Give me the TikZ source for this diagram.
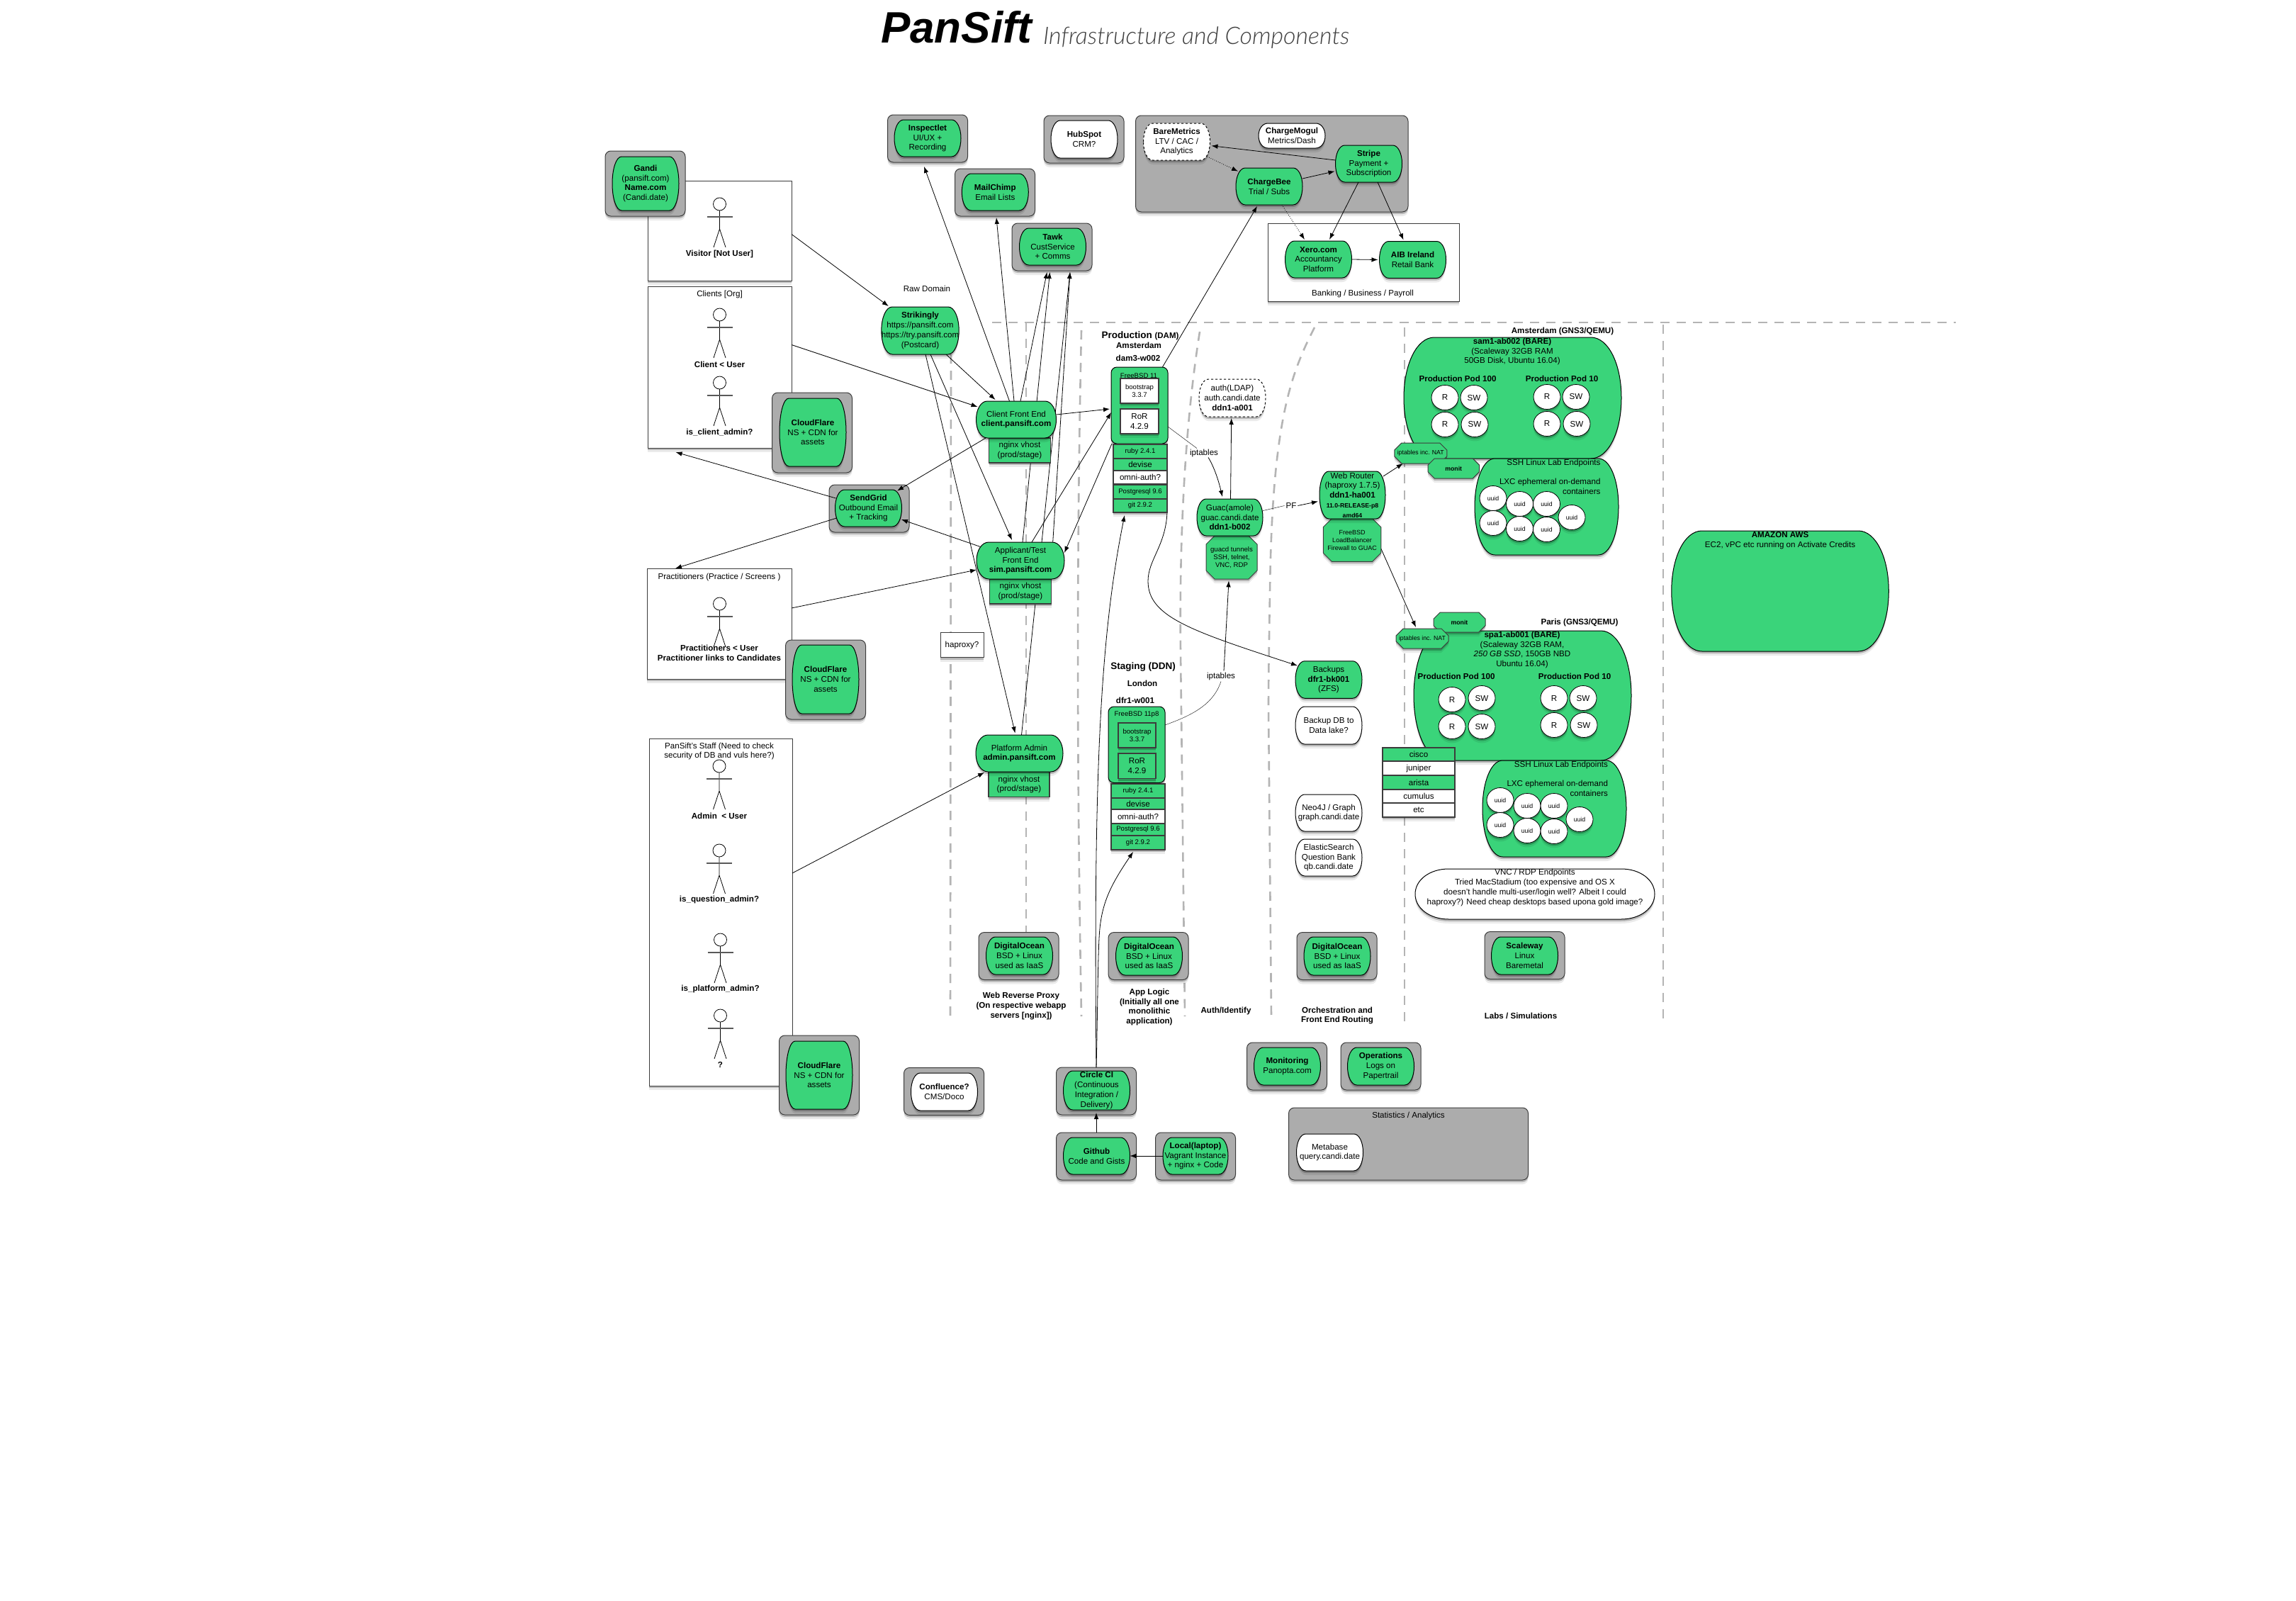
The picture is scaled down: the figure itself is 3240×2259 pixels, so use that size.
\documentclass[tikz,border=0pt]{standalone}
\usepackage{fontspec}
\setmainfont{Liberation Sans}
\newfontfamily\thinfont{Lato Light Italic}
\usetikzlibrary{arrows.meta,shadows,shapes.misc,shapes.geometric}
\definecolor{podgreen}{RGB}{58,212,122}
\definecolor{shellgrey}{RGB}{172,172,172}
\definecolor{shelledge}{RGB}{60,60,60}
\definecolor{zonegrey}{RGB}{180,180,180}
\newcommand{\microbold}{\fontsize{8.7}{10.5}\selectfont\bfseries}
\pgfdeclarelayer{zones}
\pgfdeclarelayer{shells}
\pgfdeclarelayer{wires}
\pgfsetlayers{zones,shells,wires,main}
\newdimen\podl \newdimen\podr \newdimen\podt \newdimen\podb \newdimen\podm
\newdimen\podli \newdimen\podri \newdimen\podcl \newdimen\podcr \newdimen\podcu \newdimen\podcd
\makeatletter
\pgfdeclareshape{podshape}{
  \inheritsavedanchors[from=rectangle]
  \inheritanchorborder[from=rectangle]
  \inheritanchor[from=rectangle]{center}
  \inheritanchor[from=rectangle]{text}
  \inheritanchor[from=rectangle]{base}
  \inheritanchor[from=rectangle]{north}
  \inheritanchor[from=rectangle]{south}
  \inheritanchor[from=rectangle]{east}
  \inheritanchor[from=rectangle]{west}
  \inheritanchor[from=rectangle]{north east}
  \inheritanchor[from=rectangle]{north west}
  \inheritanchor[from=rectangle]{south east}
  \inheritanchor[from=rectangle]{south west}
  \backgroundpath{
    \southwest \podl=\pgf@x \podb=\pgf@y
    \northeast \podr=\pgf@x \podt=\pgf@y
    \podm=\dimexpr(\podt+\podb)/2\relax
    \podli=\dimexpr\podl+(\podr-\podl)*14/100\relax
    \podri=\dimexpr\podr-(\podr-\podl)*14/100\relax
    \podcl=\dimexpr\podl+(\podr-\podl)*6/100\relax
    \podcr=\dimexpr\podr-(\podr-\podl)*6/100\relax
    \podcu=\dimexpr\podm+(\podt-\podb)*28/100\relax
    \podcd=\dimexpr\podm-(\podt-\podb)*28/100\relax
    \pgfpathmoveto{\pgfqpoint{\podl}{\podm}}
    \pgfpathcurveto{\pgfqpoint{\podl}{\podcu}}{\pgfqpoint{\podcl}{\podt}}{\pgfqpoint{\podli}{\podt}}
    \pgfpathlineto{\pgfqpoint{\podri}{\podt}}
    \pgfpathcurveto{\pgfqpoint{\podcr}{\podt}}{\pgfqpoint{\podr}{\podcu}}{\pgfqpoint{\podr}{\podm}}
    \pgfpathcurveto{\pgfqpoint{\podr}{\podcd}}{\pgfqpoint{\podcr}{\podb}}{\pgfqpoint{\podri}{\podb}}
    \pgfpathlineto{\pgfqpoint{\podli}{\podb}}
    \pgfpathcurveto{\pgfqpoint{\podcl}{\podb}}{\pgfqpoint{\podl}{\podcd}}{\pgfqpoint{\podl}{\podm}}
    \pgfpathclose
  }
}
\makeatother
\begin{document}
\begin{tikzpicture}[x=1pt,y=-1pt,
  every node/.style={font=\fontsize{11.6}{13.8}\selectfont, align=center, inner sep=0pt, outer sep=0pt},
  softshadow/.style={general shadow={shadow xshift=0pt, shadow yshift=-6pt, fill=black, opacity=.08}, general shadow={shadow xshift=0pt, shadow yshift=-3pt, fill=black, opacity=.22}},
  pod/.style={shape=podshape, draw=black, line width=1pt, fill=podgreen, minimum width=94pt, minimum height=52pt, softshadow},
  podwhite/.style={pod, fill=white},
  podopen/.style={pod, fill=white, dashed},
  shell/.style={rectangle, rounded corners=8pt, draw=shelledge, line width=1pt, fill=shellgrey, minimum width=113pt, minimum height=67pt, softshadow},
  tenant/.style={rectangle, draw=shelledge, line width=1pt, fill=white, softshadow},
  tier/.style={rectangle, draw=shelledge, line width=1.2pt, fill=podgreen, minimum width=76pt, softshadow},
  tierwhite/.style={tier, fill=white},
  octbox/.style={chamfered rectangle, chamfered rectangle xsep=6pt, chamfered rectangle ysep=6pt, draw=shelledge, line width=1pt, fill=podgreen, softshadow},
  ball/.style={ellipse, draw=black, line width=.8pt, fill=white, minimum width=38pt, minimum height=35pt, softshadow},
  tiny/.style={font=\fontsize{9.6}{11.2}\selectfont},
  micro/.style={font=\fontsize{8.7}{10.5}\selectfont},
  big/.style={font=\fontsize{13.5}{15}\selectfont\bfseries},
  arrow/.style={-{Latex[length=9pt,width=6.5pt]}, draw=black, line width=.8pt},
  dotarrow/.style={arrow, dotted},
  zone/.style={draw=zonegrey, line width=2.6pt, dash pattern=on 13pt off 10pt},
  actor/.pic={
    \draw[line width=.8pt, fill=white] (0,0) circle[radius=9];
    \draw[line width=.8pt] (0,9) -- (0,35) (-8.5,61) -- (0,35) -- (8.5,61);
    \draw[line width=1.2pt, draw=black!65] (-18,18) -- (18,18);
  }]
\useasboundingbox (0,0) rectangle (3240,2259);

\begin{pgfonlayer}{zones}
\fill[white] (0,0) rectangle (3240,2259);
\draw[zone] (1400,455) -- (2760,455);
\draw[zone] (1342,500) -- (1341,1435);
\draw[zone] (1448,455) -- (1448,1315);
\draw[zone] (1526,466) .. controls (1521,700) and (1518,1000) .. (1526,1434);
\draw[zone] (1693,468) .. controls (1672,600) and (1664,760) .. (1666,920) -- (1672,1434);
\draw[zone] (1855,462) .. controls (1820,530) and (1795,600) .. (1792,835) .. controls (1791,900) and (1790,950) .. (1790,1000) -- (1794,1435);
\draw[zone] (1982,462) -- (1982,1444);
\draw[zone] (2347,458) -- (2347,1446);
\end{pgfonlayer}

\node[anchor=base west, font=\fontsize{62}{70}\selectfont\bfseries\itshape] (title) at (1243,60) {PanSift};
\node[anchor=base west, font=\fontsize{34}{38}\selectfont\thinfont, text=black!75] (subtitle) at (1472,62) {Infrastructure and Components};

\begin{pgfonlayer}{shells}
% people
\node[tenant, minimum width=203pt, minimum height=141pt] (visitor) at (1015.5,325.5) {};
\pic at (1015.5,288) {actor};
\node (visitorlabel) at (1015.5,358) {\textbf{Visitor [Not User]}};
\node[tenant, minimum width=203pt, minimum height=228pt] (clients) at (1015.5,518) {};
\node (clientslabel) at (1015.5,415) {Clients [Org]};
\pic at (1015.5,444) {actor};
\node (clientuser) at (1015.5,514) {\textbf{Client < User}};
\pic at (1015.5,540) {actor};
\node (clientadmin) at (1015.5,609.5) {\textbf{is\_client\_admin?}};
\node[tenant, minimum width=204pt, minimum height=156pt] (practitioners) at (1015,880) {};
\node (practlabel) at (1015,814) {Practitioners (Practice / Screens )};
\pic at (1015.5,852) {actor};
\node (practuser) at (1015,921.5) {\textbf{Practitioners < User}\\\textbf{Practitioner links to Candidates}};
\node[tenant, minimum width=202pt, minimum height=490pt] (staff) at (1017,1287) {};
\node (stafflabel) at (1015,1060) {PanSift's Staff (Need to check\\security of DB and vuls here?)};
\pic at (1015,1081) {actor};
\node (staffadmin) at (1015,1151) {\textbf{Admin \ < User}};
\pic at (1015,1200) {actor};
\node (staffquestion) at (1015,1269) {\textbf{is\_question\_admin?}};
\pic at (1016.5,1326) {actor};
\node (staffplatform) at (1016.5,1395) {\textbf{is\_platform\_admin?}};
\pic at (1016.5,1433) {actor};
\node (staffother) at (1016.5,1502) {\textbf{?}};
% grey shells
\node[shell, minimum width=113pt, minimum height=92pt] (gandishell) at (910.5,259) {};
\node[shell] (inspectletshell) at (1309,195.5) {};
\node[shell] (mailchimpshell) at (1404,271.5) {};
\node[shell] (tawkshell) at (1484.5,348.5) {};
\node[shell] (hubspotshell) at (1529.5,196.5) {};
\node[shell, minimum width=384.5pt, minimum height=136pt] (paymentshell) at (1794.75,231) {};
\node[tenant, minimum width=270pt, minimum height=110pt] (banking) at (1924,370) {};
\node (bankinglabel) at (1923,414) {Banking / Business / Payroll};
\node[shell, minimum height=113pt] (cdnshellclient) at (1146,610.5) {};
\node[shell, minimum height=112pt] (cdnshellpract) at (1165,959) {};
\node[shell, minimum height=112pt] (cdnshellstaff) at (1156,1517) {};
\node[shell] (sendgridshell) at (1226.5,717.5) {};
\node[shell] (confluenceshell) at (1332,1540) {};
\node[shell] (doproxyshell) at (1437.5,1349) {};
\node[shell] (doappshell) at (1620.5,1349) {};
\node[shell] (doorchshell) at (1886.5,1349) {};
\node[shell] (scalewayshell) at (2151.5,1348) {};
\node[shell] (monitoringshell) at (1816,1504.5) {};
\node[shell] (operationsshell) at (1948.5,1504.5) {};
\node[shell, minimum width=338pt, minimum height=102pt] (statsshell) at (1987.5,1614) {};
\node[shell] (circleshell) at (1547,1539.5) {};
\node[shell] (githubshell) at (1547,1631.5) {};
\node[shell] (localshell) at (1687,1631.5) {};
\end{pgfonlayer}

% services
\node[pod, minimum height=76pt] (gandi) at (911,259) {\textbf{Gandi}\\(pansift.com)\\\textbf{Name.com}\\(Candi.date)};
\node[pod] (inspectlet) at (1309,195) {\textbf{Inspectlet}\\UI/UX +\\Recording};
\node[pod] (mailchimp) at (1404.3,271) {\textbf{MailChimp}\\Email Lists};
\node[pod] (tawk) at (1485.5,348) {\textbf{Tawk}\\CustService\\+ Comms};
\node[podwhite, minimum height=53pt] (hubspot) at (1530,196.5) {\textbf{HubSpot}\\CRM?};
\node[podopen] (baremetrics) at (1660.5,200) {\textbf{BareMetrics}\\LTV / CAC /\\Analytics};
\node[podwhite, minimum height=35pt] (chargemogul) at (1823,191.5) {\textbf{ChargeMogul}\\Metrics/Dash};
\node[pod] (stripe) at (1931.5,231) {\textbf{Stripe}\\Payment +\\Subscription};
\node[pod] (chargebee) at (1791,263) {\textbf{ChargeBee}\\Trial / Subs};
\node[pod] (xero) at (1860.5,366) {\textbf{Xero.com}\\Accountancy\\Platform};
\node[pod] (aib) at (1993.5,366.5) {\textbf{AIB Ireland}\\Retail Bank};
\node (rawdomain) at (1308,407) {Raw Domain};
\node[pod, minimum width=109pt, minimum height=67pt] (strikingly) at (1298.5,466.5) {\textbf{Strikingly}\\https://pansift.com\\https://try.pansift.com\\(Postcard)};
\node[pod, minimum height=96pt] (cdnclient) at (1147,610) {\textbf{CloudFlare}\\NS + CDN for\\assets};
\node[pod, minimum height=97pt] (cdnpract) at (1165,958.5) {\textbf{CloudFlare}\\NS + CDN for\\assets};
\node[pod, minimum height=96pt] (cdnstaff) at (1156,1517) {\textbf{CloudFlare}\\NS + CDN for\\assets};
\node[pod] (sendgrid) at (1225.5,717) {\textbf{SendGrid}\\Outbound Email\\+ Tracking};
\node[tier, minimum width=86.5pt, minimum height=35pt] (clientvhost) at (1439,635.5) {nginx vhost\\(prod/stage)};
\node[pod, minimum width=113pt] (clientfe) at (1434,592) {Client Front End\\\textbf{client.pansift.com}};
\node[tier, minimum width=87.5pt, minimum height=35pt] (applicantvhost) at (1440,834.5) {nginx vhost\\(prod/stage)};
\node[pod, minimum width=124pt] (applicant) at (1440,791) {Applicant/Test\\Front End\\\textbf{sim.pansift.com}};
\node[tier, minimum width=86pt, minimum height=35.5pt] (adminvhost) at (1438,1107) {nginx vhost\\(prod/stage)};
\node[pod, minimum width=123pt] (admin) at (1438.5,1063) {Platform Admin\\\textbf{admin.pansift.com}};
\node[tenant, minimum width=61pt, minimum height=35.5pt] (haproxy) at (1357.5,910) {haproxy?};
\node[podwhite, minimum height=53pt] (confluence) at (1332.5,1540.5) {\textbf{Confluence?}\\CMS/Doco};
\node[pod, minimum height=53pt] (doproxy) at (1438.5,1348.5) {\textbf{DigitalOcean}\\BSD + Linux\\used as IaaS};
\node[pod, minimum height=54pt] (doapp) at (1621.5,1349) {\textbf{DigitalOcean}\\BSD + Linux\\used as IaaS};
\node[pod, minimum height=54pt] (doorch) at (1887,1349) {\textbf{DigitalOcean}\\BSD + Linux\\used as IaaS};
\node[pod, minimum height=53pt] (scaleway) at (2151.5,1348.5) {\textbf{Scaleway}\\Linux\\Baremetal};
\node[pod, minimum height=53pt] (monitoring) at (1816.5,1504.5) {\textbf{Monitoring}\\Panopta.com};
\node[pod, minimum height=53pt] (operations) at (1948.5,1504.5) {\textbf{Operations}\\Logs on\\Papertrail};
\node (statslabel) at (1987.5,1574) {Statistics / Analytics};
\node[podwhite] (metabase) at (1876.5,1626) {Metabase\\query.candi.date};
\node[pod, minimum height=55pt] (circleci) at (1547.5,1538.5) {\textbf{Circle CI}\\(Continuous\\Integration /\\Delivery)};
\node[pod] (github) at (1547.5,1631) {\textbf{Github}\\Code and Gists};
\node[pod, minimum width=92pt] (local) at (1687,1631) {\textbf{Local(laptop)}\\Vagrant Instance\\+ nginx + Code};
% zone captions
\node (proxycaption) at (1441,1419.5) {\textbf{Web Reverse Proxy}\\\textbf{(On respective webapp}\\\textbf{servers [nginx])}};
\node (appcaption) at (1622,1421) {\textbf{App Logic}\\\textbf{(Initially all one}\\\textbf{monolithic}\\\textbf{application)}};
\node (authcaption) at (1730,1426.5) {\textbf{Auth/Identify}};
\node (orchcaption) at (1887,1433) {\textbf{Orchestration and}\\\textbf{Front End Routing}};
\node (labscaption) at (2146,1433) {\textbf{Labs / Simulations}};
% production
\node[font=\fontsize{13.5}{15}\selectfont\bfseries] (prodtitle) at (1609,473.5) {Production {\fontsize{11.5}{13}\selectfont (DAM)}};
\node (prodcity) at (1607,487) {\textbf{Amsterdam}};
\node (prodhost) at (1606,505.5) {\textbf{dam3-w002}};
\node[rectangle, rounded corners=8pt, draw=black, line width=1pt, fill=podgreen, minimum width=80pt, minimum height=108pt, softshadow] (dam) at (1608,572) {};
\node[tiny] (damos) at (1607,530) {FreeBSD 11};
\node[tierwhite, tiny, minimum width=54pt, minimum height=35pt] (dambootstrap) at (1608,551.5) {bootstrap\\3.3.7};
\node[tierwhite, minimum width=54pt, minimum height=35pt] (damror) at (1608,594.5) {RoR\\4.2.9};
\node[tier, tiny, minimum height=20pt] (damruby) at (1609,637) {ruby 2.4.1};
\node[tier, minimum height=17pt] (damdevise) at (1609,655.5) {devise};
\node[tierwhite, minimum height=19pt] (damomni) at (1609,673.5) {omni-auth?};
\node[tier, tiny, minimum height=19.6pt] (dampostgres) at (1609,694) {Postgresql 9.6};
\node[tier, tiny, minimum height=19pt] (damgit) at (1609,713.5) {git 2.9.2};
% staging
\node[big] (stagetitle) at (1613,941) {Staging (DDN)};
\node (stagecity) at (1612,964) {\textbf{London}};
\node (stagehost) at (1602,988) {\textbf{dfr1-w001}};
\node[rectangle, rounded corners=8pt, draw=black, line width=1pt, fill=podgreen, minimum width=80pt, minimum height=107.5pt, softshadow] (dfr) at (1604,1050.75) {};
\node[tiny] (dfros) at (1604,1008) {FreeBSD 11p8};
\node[tier, tiny, minimum width=53pt, minimum height=35pt] (dfrbootstrap) at (1604.5,1037.5) {bootstrap\\3.3.7};
\node[tier, minimum width=53pt, minimum height=35.5pt] (dfrror) at (1604.5,1080.75) {RoR\\4.2.9};
\node[tier, tiny, minimum height=20pt] (dfrruby) at (1606,1116) {ruby 2.4.1};
\node[tier, minimum height=16pt] (dfrdevise) at (1606,1134) {devise};
\node[tierwhite, minimum height=20pt] (dfromni) at (1606,1152) {omni-auth?};
\node[tier, tiny, minimum height=17pt] (dfrpostgres) at (1606,1170.5) {Postgresql 9.6};
\node[tier, tiny, minimum height=20pt] (dfrgit) at (1606,1189) {git 2.9.2};
% auth and routing
\node[podopen, minimum height=53pt] (auth) at (1739,561.5) {auth(LDAP)\\auth.candi.date\\\textbf{ddn1-a001}};
\node[octbox, tiny, minimum width=72pt, minimum height=61pt] (guacd) at (1738,786.5) {guacd tunnels\\SSH, telnet,\\VNC, RDP};
\node[pod, minimum width=93pt] (guac) at (1735.5,730) {Guac(amole)\\guac.candi.date\\\textbf{ddn1-b002}};
\node[octbox, font=\fontsize{9}{11}\selectfont, minimum width=72pt, minimum height=60.5pt] (balancer) at (1908,762) {FreeBSD\\LoadBalancer\\Firewall to GUAC};
\node[pod, minimum width=93pt, minimum height=67pt] (router) at (1908.5,698.5) {Web Router\\(haproxy 1.7.5)\\\textbf{ddn1-ha001}\\{\microbold 11.0-RELEASE-p8}\\{\microbold amd64}};
\node[pod, minimum height=52.5pt] (backups) at (1875,959) {Backups\\\textbf{dfr1-bk001}\\(ZFS)};
\node[podwhite, minimum height=53pt] (backupdb) at (1875,1023.5) {Backup DB to\\Data lake?};
\node[podwhite] (neo) at (1875,1147) {Neo4J / Graph\\graph.candi.date};
\node[podwhite] (elastic) at (1875,1210) {ElasticSearch\\Question Bank\\qb.candi.date};
% labs amsterdam
\node (amslabel) at (2205,467) {\textbf{Amsterdam (GNS3/QEMU)}};
\node[pod, minimum width=307pt, minimum height=171pt] (sam) at (2134.5,561.5) {};
\node (samtext) at (2134,496) {\textbf{sam1-ab002 (BARE)}\\(Scaleway 32GB RAM\\50GB Disk, Ubuntu 16.04)};
\node (sampodbig) at (2057,534) {\textbf{Production Pod 100}};
\node (sampodsmall) at (2204,534) {\textbf{Production Pod 10}};
\node[ball] (samra) at (2039,561) {R};
\node[ball] (samsa) at (2080,561) {SW};
\node[ball] (samrb) at (2039,599) {R};
\node[ball] (samsb) at (2081,599) {SW};
\node[ball] (samrc) at (2183,560) {R};
\node[ball] (samsc) at (2224,560) {SW};
\node[ball] (samrd) at (2183,598) {R};
\node[ball] (samsd) at (2225,598) {SW};
\node[pod, minimum width=203pt, minimum height=136pt] (samssh) at (2182.5,715) {};
\node[anchor=north east] (samsshtext) at (2258.5,648) {SSH Linux Lab Endpoints};
\node[anchor=north east, align=right] (samlxc) at (2258.5,675) {LXC ephemeral on-demand\\containers};
\node[ball, micro] (samua) at (2107,703) {uuid};
\node[ball, micro] (samub) at (2144.5,711) {uuid};
\node[ball, micro] (samuc) at (2182.5,711) {uuid};
\node[ball, micro] (samud) at (2218,730) {uuid};
\node[ball, micro] (samue) at (2107,738) {uuid};
\node[ball, micro] (samuf) at (2144.5,746) {uuid};
\node[ball, micro] (samug) at (2182.5,747) {uuid};
\node[octbox, micro, minimum width=71.5pt, minimum height=29pt] (samnat) at (2004.75,639.5) {iptables inc. NAT};
\node[octbox, micro, minimum width=72.5pt, minimum height=28pt] (sammonit) at (2051.25,661) {\textbf{monit}};
% labs paris
\node (parislabel) at (2229,878) {\textbf{Paris (GNS3/QEMU)}};
\node[pod, minimum width=307pt, minimum height=183pt] (spa) at (2148.5,981.5) {};
\node (spatext) at (2148,917) {\textbf{spa1-ab001 (BARE)}\\(Scaleway 32GB RAM,\\\textit{250 GB SSD}, 150GB NBD\\Ubuntu 16.04)};
\node (spapodbig) at (2055,954) {\textbf{Production Pod 100}};
\node (spapodsmall) at (2222,954) {\textbf{Production Pod 10}};
\node[ball] (sparA) at (2049,987) {R};
\node[ball] (spasA) at (2091,985) {SW};
\node[ball] (sparB) at (2049,1025) {R};
\node[ball] (spasB) at (2091,1025) {SW};
\node[ball] (sparC) at (2193,985) {R};
\node[ball] (spasC) at (2234,985) {SW};
\node[ball] (sparD) at (2193,1023) {R};
\node[ball] (spasD) at (2235,1023) {SW};
\node[octbox, micro, minimum width=73pt, minimum height=28pt] (spamonit) at (2059.5,878) {\textbf{monit}};
\node[octbox, micro, minimum width=72pt, minimum height=28pt] (spanat) at (2007,901) {iptables inc. NAT};
\node[pod, minimum width=203pt, minimum height=136pt] (spassh) at (2193.5,1141) {};
\node[anchor=north east] (spasshtext) at (2269,1074) {SSH Linux Lab Endpoints};
\node[anchor=north east, align=right] (spalxc) at (2269,1101) {LXC ephemeral on-demand\\containers};
\node[ball, micro] (spaua) at (2117,1129) {uuid};
\node[ball, micro] (spaub) at (2155,1137) {uuid};
\node[ball, micro] (spauc) at (2193,1137) {uuid};
\node[ball, micro] (spaud) at (2229,1156) {uuid};
\node[ball, micro] (spaue) at (2117,1164) {uuid};
\node[ball, micro] (spauf) at (2155,1172) {uuid};
\node[ball, micro] (spaug) at (2193,1173) {uuid};
\node[tier, minimum width=102pt, minimum height=19pt] (cisco) at (2002,1064.5) {cisco};
\node[tierwhite, minimum width=102pt, minimum height=20pt] (juniper) at (2002,1084) {juniper};
\node[tier, minimum width=102pt, minimum height=20pt] (arista) at (2002,1104) {arista};
\node[tierwhite, minimum width=102pt, minimum height=19pt] (cumulus) at (2002,1123.5) {cumulus};
\node[tierwhite, minimum width=102pt, minimum height=20pt] (etcvendor) at (2002,1143) {etc};
\node[podwhite, minimum width=338pt, minimum height=71pt] (vnc) at (2166,1261.5) {};
\node (vnctext) at (2166,1252.5) {VNC / RDP Endpoints\\Tried MacStadium (too expensive and OS X\\doesn't handle multi-user/login well? Albeit I could\\haproxy?) Need cheap desktops based upona gold image?};
\node[pod, minimum width=306.5pt, minimum height=170pt] (aws) at (2512,834) {};
\node (awstext) at (2512,762.5) {\textbf{AMAZON AWS}\\EC2, vPC etc running on Activate Credits};
% wire labels
\node (iptprod) at (1699,639) {iptables};
\node (iptstage) at (1723,954) {iptables};
\node (pf) at (1822,713.5) {PF};

\begin{pgfonlayer}{wires}
\draw[arrow] ([yshift=-5pt]visitor.east) -- ([xshift=10pt,yshift=1pt]strikingly.north west);
\draw[arrow] ([yshift=31.5pt]clients.east) -- ([xshift=2pt,yshift=18pt]clientfe.west);
\draw[arrow] ([xshift=36.5pt]strikingly.south) -- ([xshift=-29.5pt,yshift=2pt]clientfe.north);
\draw[arrow] ([xshift=14.5pt]strikingly.south) -- ([xshift=-12pt,yshift=3pt]applicant.north);
\draw[arrow] ([xshift=7.5pt]strikingly.south) -- ([xshift=-6pt,yshift=2.5pt]admin.north);
\draw[arrow] ([xshift=-9.5pt]clientfe.north) -- ([xshift=-5pt,yshift=-6pt]inspectletshell.south);
\draw[arrow] ([xshift=-3pt]clientfe.north) -- ([xshift=2pt,yshift=-2pt]mailchimpshell.south);
\draw[arrow] ([xshift=6pt]clientfe.north) -- ([xshift=-7pt,yshift=-2pt]tawkshell.south);
\draw[arrow] ([xshift=3pt]applicant.north) -- ([xshift=-3pt,yshift=-2pt]tawkshell.south);
\draw[arrow] ([xshift=3pt]admin.north) -- ([xshift=25.5pt,yshift=-2pt]tawkshell.south);
\draw[arrow] ([xshift=45.7pt]applicant.north) -- ([xshift=25.5pt,yshift=-2pt]tawkshell.south);
\draw[arrow] ([yshift=7pt]clientfe.east) -- ([xshift=-2pt,yshift=-5pt]dam.west);
\draw[arrow] ([xshift=16pt]applicant.north) -- ([yshift=-10pt]dam.west);
\draw[arrow] ([xshift=1pt]dam.south west) -- ([yshift=11pt]applicant.east);
\draw[arrow] ([xshift=-43pt]clientfe.south) -- ([xshift=-17pt,yshift=-8.5pt]sendgridshell.north east);
\draw[arrow] ([xshift=5.5pt,yshift=19.5pt]applicant.west) -- ([xshift=-11pt,yshift=-15.5pt]sendgridshell.east);
\draw[arrow] ([xshift=1pt,yshift=14pt]sendgrid.west) -- ([xshift=-62pt,yshift=-6pt]clients.south);
\draw[arrow] ([xshift=2pt,yshift=-14pt]sendgrid.west) -- ([xshift=-62pt]practitioners.north);
\draw[arrow] ([yshift=22pt]practitioners.east) -- ([yshift=-13pt]applicant.west);
\draw[arrow] ([yshift=55pt]staff.east) -- ([xshift=12pt,yshift=-1pt]admin.south west);
\draw[arrow] ([xshift=32.4pt]dam.north) -- ([xshift=-17pt,yshift=-2pt]chargebee.south);
\draw[arrow] (circleshell.north) .. controls (1543,1100) and (1552,900) .. ([xshift=-22pt,yshift=-4pt]damgit.south);
\draw[arrow] (circleshell.north) .. controls (1549,1430) and (1549,1340) .. (1552,1310) .. controls (1556,1270) and (1570,1245) .. ([xshift=-7pt,yshift=-3pt]dfrgit.south);
\draw[arrow] (githubshell.north) -- ([yshift=3pt]circleshell.south);
\draw[arrow] (local.west) -- (github.east);
\draw[arrow] ([yshift=5pt]stripe.west) -- ([xshift=2pt,yshift=-5.7pt]baremetrics.east);
\draw[arrow] ([yshift=11pt]chargebee.east) -- ([xshift=-1pt,yshift=-10.7pt]stripe.west);
\draw[dotarrow] ([xshift=-4pt,yshift=5pt]baremetrics.south east) -- ([xshift=3pt,yshift=-4.7pt]chargebee.north west);
\draw[dotarrow] ([xshift=18pt]chargebee.south) -- ([xshift=-19.5pt,yshift=2pt]xero.north);
\draw[arrow] ([xshift=-14.5pt]stripe.south) -- ([xshift=15.5pt,yshift=2pt]xero.north);
\draw[arrow] ([xshift=12.5pt]stripe.south) -- ([xshift=-13pt,yshift=2pt]aib.north);
\draw[arrow] (xero.east) -- ([xshift=-2pt]aib.west);
\draw ([yshift=-30pt]dam.east) -- ([xshift=-10pt,yshift=1pt]iptprod.north);
\draw[arrow] ([xshift=6pt,yshift=-1pt]iptprod.south) .. controls (1714,660) and (1720,680) .. ([xshift=-10.5pt,yshift=3pt]guac.north);
\draw[arrow] ([xshift=1pt]guac.north) -- ([xshift=-1.3pt,yshift=-2pt]auth.south);
\draw ([yshift=9.4pt]guac.east) -- ([xshift=-2pt]pf.west);
\draw[arrow] ([xshift=2pt]pf.east) -- ([xshift=-2pt,yshift=-9pt]router.west);
\draw[arrow] ([xshift=-3pt,yshift=-7pt]router.north east) -- ([xshift=-25pt]samnat.south);
\draw[arrow] ([yshift=-12pt]balancer.east) -- ([xshift=-9pt,yshift=2pt]spanat.north);
\draw[arrow] (damgit.south east) .. controls (1645,770) and (1620,790) .. (1620,820) .. controls (1620,870) and (1680,890) .. ([xshift=3pt,yshift=-6.5pt]backups.north west);
\draw ([yshift=27.75pt]dfr.east) .. controls (1680,1010) and (1712,995) .. ([yshift=-2pt]iptstage.south);
\draw[arrow] ([xshift=4pt,yshift=2pt]iptstage.north) -- ([xshift=-4pt,yshift=-2.4pt]guacd.south);
\end{pgfonlayer}
\end{tikzpicture}
\end{document}
